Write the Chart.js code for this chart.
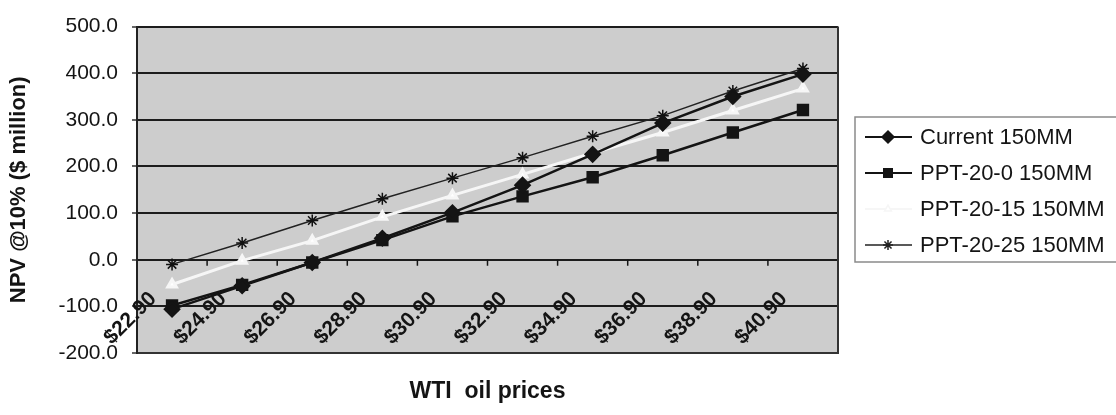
<!DOCTYPE html>
<html>
<head>
<meta charset="utf-8">
<script src="https://cdn.jsdelivr.net/npm/chart.js@4.4.1/dist/chart.umd.min.js"></script>
<style>
html,body{margin:0;padding:0;background:#fff;}
canvas{display:block;}
</style>
</head>
<body>
<canvas id="myChart" width="1116" height="415"></canvas>
<script>
// data
const prices = ['$22.90','$24.90','$26.90','$28.90','$30.90','$32.90','$34.90','$36.90','$38.90','$40.90'];
const current150 = [-106, -56, -6, 46, 101, 160, 226, 293, 350, 398];
const ppt20_0 = [-98, -54, -6, 42, 93, 136, 177, 224, 273, 321];
const ppt20_15 = [-53, -2, 41, 92, 138, 183, 229, 273, 320, 367];
const ppt20_25 = [-10, 36, 84, 131, 175, 219, 265, 309, 362, 410];
const seriesNames = ['Current 150MM', 'PPT-20-0 150MM', 'PPT-20-15 150MM', 'PPT-20-25 150MM'];
const yMin = -200, yMax = 500, yStep = 100;

const fontFam = "'Liberation Sans', Arial, sans-serif";
const ink = '#141414';

// grey plot area
const plotBg = {
  id: 'plotBg',
  beforeDraw(chart) {
    const {ctx, chartArea: a} = chart;
    ctx.save();
    ctx.fillStyle = '#cdcdcd';
    ctx.fillRect(a.left, a.top, a.right - a.left, a.bottom - a.top);
    ctx.restore();
  }
};

// right frame, ticks on the zero line, slanted price labels
const xAxisStuff = {
  id: 'xAxisStuff',
  afterDraw(chart) {
    const {ctx, chartArea: a} = chart;
    const xs = chart.scales.x, ys = chart.scales.y;
    ctx.save();
    ctx.strokeStyle = '#333';
    ctx.lineWidth = 2;
    ctx.beginPath();
    ctx.moveTo(a.right, a.top);
    ctx.lineTo(a.right, a.bottom);
    ctx.stroke();

    const zeroY = ys.getPixelForValue(0);
    const step = xs.getPixelForTick(1) - xs.getPixelForTick(0);
    ctx.strokeStyle = ink;
    ctx.lineWidth = 1.5;
    for (let i = 1; i < prices.length; i++) {
      const bx = xs.getPixelForTick(i) - step / 2;
      ctx.beginPath();
      ctx.moveTo(bx, zeroY);
      ctx.lineTo(bx, zeroY + 6);
      ctx.stroke();
    }

    ctx.fillStyle = ink;
    ctx.font = 'bold 21px ' + fontFam;
    ctx.textAlign = 'right';
    ctx.textBaseline = 'middle';
    prices.forEach((p, i) => {
      const cx = xs.getPixelForTick(i);
      ctx.save();
      ctx.translate(cx - 19, zeroY + 36);
      ctx.rotate(-Math.PI / 4);
      ctx.fillText(p, 0, 0);
      ctx.restore();
    });
    ctx.restore();
  }
};

// legend box to the right, line + marker per series
const legendBox = {
  id: 'legendBox',
  afterDraw(chart) {
    const {ctx, chartArea: a} = chart;
    const left = a.right + 17, top = 117, bottom = 262;
    ctx.save();
    ctx.strokeStyle = '#8a8a8a';
    ctx.lineWidth = 1.5;
    ctx.strokeRect(left, top, chart.width - left + 5, bottom - top);
    chart.data.datasets.forEach((ds, i) => {
      const y = top + 20 + i * 36;
      ctx.strokeStyle = ds.borderColor;
      ctx.fillStyle = ds.pointBackgroundColor;
      ctx.lineWidth = Math.min(ds.borderWidth, 2);
      ctx.beginPath();
      ctx.moveTo(left + 10, y);
      ctx.lineTo(left + 57, y);
      ctx.stroke();
      ctx.lineWidth = 1.5;
      Chart.helpers.drawPoint(ctx, {pointStyle: ds.pointStyle, radius: ds.pointRadius - 1, rotation: 0, borderWidth: 1.5}, left + 33, y);
      ctx.fillStyle = ink;
      ctx.font = '22px ' + fontFam;
      ctx.textAlign = 'left';
      ctx.textBaseline = 'middle';
      ctx.fillText(ds.label, left + 65, y + 1);
    });
    ctx.restore();
  }
};

const Config = {
  type: 'line',
  data: {
    labels: prices,
    datasets: [
      {label: seriesNames[0], data: current150, borderColor: ink, backgroundColor: ink, pointBackgroundColor: ink,
       borderWidth: 2.5, pointStyle: 'rectRot', pointRadius: 7, pointBorderColor: ink},
      {label: seriesNames[1], data: ppt20_0, borderColor: ink, backgroundColor: ink, pointBackgroundColor: ink,
       borderWidth: 2.5, pointStyle: 'rect', pointRadius: 7, pointBorderColor: ink},
      {label: seriesNames[2], data: ppt20_15, borderColor: '#f6f6f6', backgroundColor: '#fff', pointBackgroundColor: '#fff',
       borderWidth: 3, pointStyle: 'triangle', pointRadius: 5, pointBorderColor: '#f6f6f6'},
      {label: seriesNames[3], data: ppt20_25, borderColor: '#222', backgroundColor: '#222', pointBackgroundColor: '#222',
       borderWidth: 1.5, pointStyle: 'star', pointRadius: 6, pointBorderColor: '#111', pointBorderWidth: 1.5}
    ]
  },
  plugins: [plotBg, xAxisStuff, legendBox],
  options: {
    responsive: false,
    animation: false,
    layout: {padding: {left: 0, right: 278, top: 23, bottom: 0}},
    elements: {line: {tension: 0}},
    plugins: {
      legend: {display: false},
      tooltip: {enabled: false}
    },
    scales: {
      x: {
        type: 'category',
        offset: true,
        grid: {display: false},
        border: {display: true, color: '#333', width: 2},
        ticks: {display: false},
        title: {
          display: true,
          text: 'WTI  oil prices',
          color: ink,
          font: {family: fontFam, size: 23, weight: 'bold'},
          padding: {top: 0, bottom: 10}
        },
        afterFit(scale) { scale.height = 62; }
      },
      y: {
        min: yMin,
        max: yMax,
        ticks: {
          stepSize: yStep,
          color: ink,
          padding: 14,
          font: {family: fontFam, size: 21},
          callback: (v) => Number(v).toFixed(1)
        },
        grid: {color: '#1c1c1c', lineWidth: 2, tickLength: 5, tickColor: '#333', tickWidth: 1.5},
        border: {display: true, color: '#222', width: 2},
        title: {
          display: true,
          text: 'NPV @10% ($ million)',
          color: ink,
          font: {family: fontFam, size: 22, weight: 'bold'},
          padding: {top: 6, bottom: 0}
        },
        afterFit(scale) { scale.width = 137; }
      }
    }
  }
};

const myChart = new Chart(document.getElementById('myChart'), Config);
</script>
</body>
</html>
